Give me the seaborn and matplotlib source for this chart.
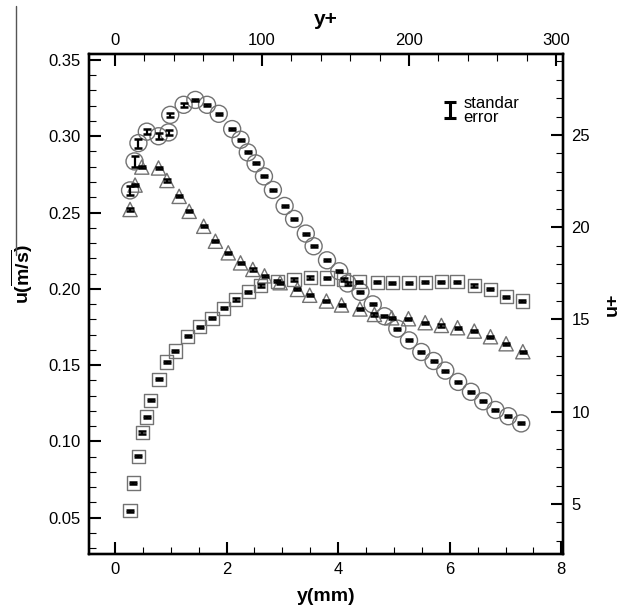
import matplotlib
matplotlib.use("Agg")
import matplotlib.pyplot as plt
from matplotlib.lines import Line2D
from matplotlib.ticker import MultipleLocator
import seaborn as sns
import pandas as pd

# ---------------- data ----------------
x_circle = [0.27, 0.35, 0.42, 0.57, 0.78, 0.96, 0.99, 1.23, 1.44, 1.65, 1.86, 2.10, 2.25,
            2.38, 2.52, 2.67, 2.83, 3.04, 3.21, 3.42, 3.56, 3.80, 4.02, 4.17, 4.40, 4.62,
            4.83, 5.06, 5.27, 5.49, 5.71, 5.92, 6.15, 6.38, 6.60, 6.82, 7.05, 7.28]
u_circle = [0.2645, 0.2835, 0.2955, 0.3030, 0.3000, 0.3025, 0.3140, 0.3206, 0.3238, 0.3206,
            0.3147, 0.3047, 0.2977, 0.2894, 0.2822, 0.2737, 0.2648, 0.2543, 0.2458, 0.2362,
            0.2279, 0.2187, 0.2115, 0.2035, 0.1980, 0.1898, 0.1820, 0.1739, 0.1662, 0.1586,
            0.1527, 0.1464, 0.1390, 0.1325, 0.1263, 0.1206, 0.1165, 0.1118]
e_circle = [0.0030, 0.0037, 0.0030, 0.0017, 0.0020, 0.0018, 0.0015, 0.0012] + [0.0007] * 30

x_tri = [0.27, 0.36, 0.48, 0.78, 0.93, 1.15, 1.33, 1.59, 1.80, 2.03, 2.25, 2.47, 2.68, 2.96,
         3.27, 3.49, 3.79, 4.06, 4.39, 4.65, 4.96, 5.26, 5.56, 5.85, 6.14, 6.44, 6.73, 7.01, 7.31]
u_tri = [0.2520, 0.2680, 0.2798, 0.2792, 0.2710, 0.2606, 0.2508, 0.2410, 0.2312, 0.2236,
         0.2170, 0.2127, 0.2085, 0.2040, 0.1996, 0.1958, 0.1920, 0.1894, 0.1868, 0.1832,
         0.1810, 0.1804, 0.1778, 0.1760, 0.1745, 0.1723, 0.1686, 0.1640, 0.1588]
e_tri = [0.0007] * len(x_tri)

x_sq = [0.27, 0.33, 0.42, 0.49, 0.57, 0.64, 0.79, 0.93, 1.08, 1.30, 1.52, 1.74, 1.95, 2.16,
        2.39, 2.61, 2.91, 3.21, 3.50, 3.80, 4.10, 4.38, 4.70, 4.97, 5.27, 5.56, 5.85, 6.13,
        6.44, 6.73, 7.01, 7.30]
u_sq = [0.0546, 0.0727, 0.0902, 0.1058, 0.1160, 0.1270, 0.1407, 0.1520, 0.1592, 0.1690,
        0.1752, 0.1806, 0.1872, 0.1930, 0.1980, 0.2022, 0.2050, 0.2061, 0.2074, 0.2071,
        0.2061, 0.2046, 0.2043, 0.2040, 0.2040, 0.2044, 0.2046, 0.2046, 0.2022, 0.1996,
        0.1948, 0.1920]
e_sq = [0.0007] * len(x_sq)

xticks_mm = [0, 2, 4, 6, 8]
yticks_u = [0.05, 0.10, 0.15, 0.20, 0.25, 0.30, 0.35]
ticks_yplus = [0, 100, 200, 300]
ticks_uplus = [5, 10, 15, 20, 25]

# ---------------- style ----------------
sns.set_theme(style="white")
plt.rcParams["font.family"] = ["Liberation Sans", "DejaVu Sans"]
plt.rcParams["text.color"] = "black"
plt.rcParams["axes.labelcolor"] = "black"
plt.rcParams["xtick.color"] = "black"
plt.rcParams["ytick.color"] = "black"
plt.rcParams["mathtext.fontset"] = "custom"
plt.rcParams["mathtext.rm"] = "Liberation Sans"
plt.rcParams["mathtext.bf"] = "Liberation Sans:bold"

W, H = 631, 610
fig = plt.figure(figsize=(W / 100, H / 100), dpi=100)
L, R, T, B = 89, 563, 54, 554
ax = fig.add_axes([L / W, 1 - B / H, (R - L) / W, (B - T) / H])

edge = "#727272"
series = [
    (x_circle, u_circle, e_circle, "o", 150),
    (x_tri, u_tri, e_tri, "^", 105),
    (x_sq, u_sq, e_sq, "s", 90),
]
for xs, us, es, mk, size in series:
    df = pd.DataFrame({"y_mm": xs, "u": us, "err": es})
    sns.scatterplot(data=df, x="y_mm", y="u", marker=mk, s=size, color=edge,
                    facecolor="none", edgecolor=edge, linewidth=1.0, ax=ax, zorder=3)
    ax.errorbar(df["y_mm"], df["u"], yerr=df["err"], fmt="none", ecolor="black",
                elinewidth=1.6, capsize=3.0, capthick=1.8, zorder=4)

ax.set_xlim(-0.466, 8.03)
ax.set_ylim(0.0262, 0.3539)
ax.set_xticks(xticks_mm)
ax.set_yticks(yticks_u)
ax.set_yticklabels([f"{v:.2f}" for v in yticks_u])
ax.xaxis.set_minor_locator(MultipleLocator(0.5))
ax.yaxis.set_minor_locator(MultipleLocator(0.01))
ax.set_xlabel("y(mm)", fontsize=14, fontweight="bold", labelpad=8)
ax.set_ylabel(r"$\mathbf{u(\overline{m/s})}$", fontsize=14, fontweight="bold")
ax.yaxis.set_label_coords(-0.113, 0.56)

tick_kw = dict(direction="in", colors="black", labelsize=12)
ax.tick_params(which="major", length=8.5, width=1.5, pad=6, **tick_kw)
ax.tick_params(which="minor", length=5, width=0.8, **tick_kw)
ax.tick_params(top=False, right=False, which="both")

# top axis: y+
axt = ax.twiny()
axt.set_xlim(-17.7, 304.8)
axt.set_xticks(ticks_yplus)
axt.xaxis.set_minor_locator(MultipleLocator(20))
axt.tick_params(which="major", length=8.5, width=1.5, pad=4, **tick_kw)
axt.tick_params(which="minor", length=5, width=0.8, **tick_kw)
axt.set_xlabel("y+", fontsize=15, fontweight="bold", labelpad=6)

# right axis: u+
axr = ax.twinx()
axr.set_ylim(2.29, 29.39)
axr.set_yticks(ticks_uplus)
axr.yaxis.set_minor_locator(MultipleLocator(1))
axr.tick_params(which="major", length=8.5, width=1.5, pad=6, **tick_kw)
axr.tick_params(which="minor", length=5, width=0.8, **tick_kw)
axr.set_ylabel("u+", fontsize=14, fontweight="bold", labelpad=10)

for a in (ax, axt, axr):
    for sp in a.spines.values():
        sp.set_visible(True)
        sp.set_linewidth(1.6)
        sp.set_color("black")
    a.grid(False)

# legend-like annotation: standard error glyph
ax.errorbar([0.762], [0.889], yerr=[0.016], fmt="none", ecolor="black", elinewidth=2.2,
            capsize=4, capthick=2.2, transform=ax.transAxes, clip_on=False, zorder=5)
ax.text(0.79, 0.887, "standar\nerror", transform=ax.transAxes, fontsize=12,
        va="center", ha="left", linespacing=0.95)

# stray vertical line at top-left of the reference image
fig.add_artist(Line2D([16 / W, 16 / W], [1 - 6 / H, 1 - 255 / H], color="#555555", lw=1))

fig.savefig("out.png", dpi=100)
